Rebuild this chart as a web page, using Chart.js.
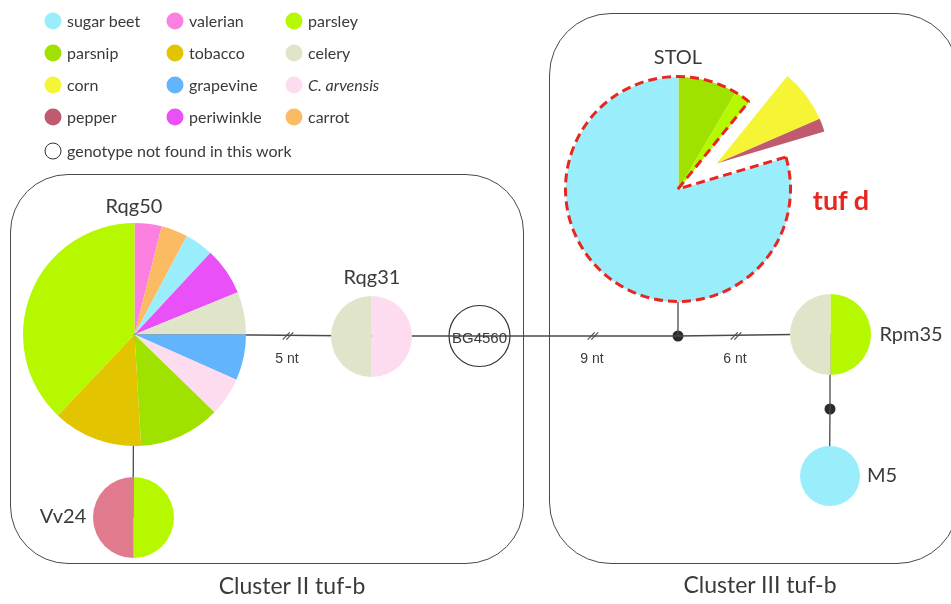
<!DOCTYPE html>
<html>
<head>
<meta charset="utf-8">
<script src="https://cdn.jsdelivr.net/npm/chart.js@4.4.1/dist/chart.umd.min.js"></script>
<style>
  body { margin: 0; background: #fff; font-family: Lato, "Open Sans", sans-serif; color: #3a3a3a; }
  #wrap { position: relative; width: 951px; height: 604px; overflow: hidden; }
  #net { position: absolute; left: 0; top: 0; }
  canvas.pie { position: absolute; }
  .box { position: absolute; border: 1.5px solid #4a4a4a; box-sizing: border-box; }
  .lbl { position: absolute; white-space: nowrap; transform: translate(-50%, -50%); line-height: 1; }
  .node { font-size: 20px; }
  .nt { font-family: "Liberation Sans", Arial, sans-serif; font-size: 14px; }
  .cluster { font-size: 23px; }
  .leg { position: absolute; font-size: 16px; white-space: nowrap; line-height: 1; transform: translateY(-50%); }
  .dot { position: absolute; width: 17px; height: 17px; border-radius: 50%; transform: translate(-50%, -50%); box-sizing: border-box; }
</style>
</head>
<body>
<div id="wrap">
  <div class="box" style="left:10px; top:174px; width:514px; height:390px; border-radius:58px;"></div>
  <div class="box" style="left:549px; top:13px; width:410px; height:551px; border-radius:62px;"></div>
  <canvas id="net" width="951" height="604"></canvas>
</div>
<script>
// host plants and their colours
const hosts = ['sugar beet', 'valerian', 'parsley', 'parsnip', 'tobacco', 'celery',
               'corn', 'grapevine', 'C. arvensis', 'pepper', 'periwinkle', 'carrot'];
const hostColors = ['#9aeefc', '#fb80e0', '#b6f800', '#9fe200', '#e3c400', '#e0e4c8',
                    '#f5f536', '#62b4fc', '#fcdcee', '#c05a6e', '#ea50f7', '#fbbb63'];

// slices of each genotype, clockwise from 12 o'clock (shares)
const rqg50Hosts = ['valerian', 'carrot', 'sugar beet', 'periwinkle', 'celery', 'grapevine',
                    'C. arvensis', 'parsnip', 'tobacco', 'parsley'];
const rqg50Values = [14.1, 13.9, 14.9, 24.9, 22.2, 23.9, 20.3, 42.4, 46.9, 136.5];
const rqg31Hosts = ['C. arvensis', 'celery'];
const rqg31Values = [1, 1];
const stolHosts = ['parsnip', 'parsley', 'corn', 'pepper', 'sugar beet'];
const stolValues = [30.5, 8.5, 27.5, 7, 286.5];
const tufdHosts = ['corn', 'pepper'];   // wedge pulled out of STOL
const rpm35Hosts = ['parsley', 'celery'];
const rpm35Values = [1, 1];
const m5Hosts = ['sugar beet'];
const m5Values = [1];
const vv24Hosts = ['parsley', 'pepper'];
const vv24Values = [1, 1];
const edgeLabels = ['5 nt', '9 nt', '6 nt'];

// layout (pixels)
const nodes = {
  Rqg50: { x: 134, y: 334, r: 111.5 },
  Rqg31: { x: 371, y: 336, r: 40.5 },
  BG4560: { x: 479.5, y: 336, r: 30.5 },
  J1: { x: 678, y: 336 },
  STOL: { x: 678, y: 189, r: 112.5 },
  Rpm35: { x: 830, y: 334, r: 40.7 },
  J2: { x: 830, y: 409 },
  M5: { x: 829.5, y: 475.5, r: 30 },
  Vv24: { x: 133, y: 517.5, r: 40.5 }
};
const edges = [['Rqg50', 'Rqg31'], ['Rqg31', 'BG4560'], ['BG4560', 'J1'], ['J1', 'Rpm35'],
               ['J1', 'STOL'], ['Rpm35', 'J2'], ['J2', 'M5'], ['Rqg50', 'Vv24']];
const breakMarks = [{ x: 288, y: 336 }, { x: 593, y: 336 }, { x: 736, y: 336 }];

const wrap = document.getElementById('wrap');
const colorOf = h => hostColors[hosts.indexOf(h)];

// ---- network lines, junctions, empty genotype ----
const datasets = [];
edges.forEach(e => {
  const a = nodes[e[0]], b = nodes[e[1]];
  datasets.push({ type: 'line', data: [{ x: a.x, y: a.y }, { x: b.x, y: b.y }],
    borderColor: '#4a4a4a', borderWidth: 1.3, pointRadius: 0 });
});
breakMarks.forEach(m => {
  [-1.8, 1.8].forEach(k => {
    datasets.push({ type: 'line', data: [{ x: m.x + k - 3.5, y: m.y + 3.6 }, { x: m.x + k + 3.5, y: m.y - 3.6 }],
      borderColor: '#4a4a4a', borderWidth: 1.1, pointRadius: 0 });
  });
});
datasets.push({ data: [nodes.J1, nodes.J2].map(n => ({ x: n.x, y: n.y })),
  pointRadius: 5.5, backgroundColor: '#2b2b2b', borderWidth: 0 });
datasets.push({ data: [{ x: nodes.BG4560.x, y: nodes.BG4560.y }],
  pointRadius: nodes.BG4560.r, backgroundColor: '#fff', borderColor: '#333', borderWidth: 1.2 });

new Chart(document.getElementById('net'), {
  type: 'scatter',
  data: { datasets },
  options: {
    responsive: false, animation: false,
    layout: { padding: 0, autoPadding: false },
    plugins: { legend: { display: false }, tooltip: { enabled: false } },
    scales: {
      x: { type: 'linear', min: 0, max: 951, display: false },
      y: { type: 'linear', min: 0, max: 604, reverse: true, display: false }
    }
  }
});

// ---- pies ----
function makePie(cx, cy, r, labels, values, colors, extra) {
  extra = extra || {};
  const bw = extra.borderWidth || 0;
  const size = Math.round(2 * r + bw);
  const c = document.createElement('canvas');
  c.className = 'pie';
  c.width = size; c.height = size;
  c.style.left = (cx - size / 2) + 'px';
  c.style.top = (cy - size / 2) + 'px';
  wrap.appendChild(c);
  new Chart(c, {
    type: 'pie',
    data: { labels, datasets: [{ data: values, backgroundColor: colors,
      borderWidth: extra.borderWidths || 0, borderColor: extra.borderColor || '#fff',
      borderDash: extra.borderDash || [] }] },
    options: {
      responsive: false, animation: false, rotation: extra.rotation || 0,
      plugins: { legend: { display: false }, tooltip: { enabled: false } }
    }
  });
}

function pie(name, labels, values, override) {
  const n = nodes[name];
  makePie(n.x, n.y, n.r, labels, values, labels.map(h => (override && override[h]) || colorOf(h)));
}

pie('Rqg50', rqg50Hosts, rqg50Values);
pie('Rqg31', rqg31Hosts, rqg31Values);
pie('Rpm35', rpm35Hosts, rpm35Values);
pie('M5', m5Hosts, m5Values);
pie('Vv24', vv24Hosts, vv24Values, { pepper: '#e07b8e' });

// STOL: body, pulled-out tuf d wedge, dashed outline
const clear = 'rgba(0,0,0,0)';
const S = nodes.STOL;
const total = stolValues.reduce((a, b) => a + b, 0);
let wedgeStart = 0, wedgeSize = 0, seen = false;
stolHosts.forEach((h, i) => {
  if (tufdHosts.includes(h)) { wedgeSize += stolValues[i]; seen = true; }
  else if (!seen) wedgeStart += stolValues[i];
});
const a0 = wedgeStart / total * 360, da = wedgeSize / total * 360;
const mid = (a0 + da / 2) * Math.PI / 180, pull = 46;
makePie(S.x, S.y, S.r, stolHosts, stolValues,
  stolHosts.map(h => tufdHosts.includes(h) ? clear : colorOf(h)));
makePie(S.x + pull * Math.sin(mid), S.y - pull * Math.cos(mid), S.r, stolHosts, stolValues,
  stolHosts.map(h => tufdHosts.includes(h) ? colorOf(h) : clear));
makePie(S.x, S.y, S.r, ['STOL', 'tuf d'], [total - wedgeSize, wedgeSize], [clear, clear],
  { rotation: a0 + da, borderWidth: 3, borderWidths: [3, 0], borderColor: '#e8251f', borderDash: [9, 5] });

// ---- text ----
function label(text, x, y, cls, style) {
  const d = document.createElement('div');
  d.className = 'lbl ' + (cls || '');
  d.textContent = text;
  d.style.left = x + 'px'; d.style.top = y + 'px';
  if (style) Object.assign(d.style, style);
  wrap.appendChild(d);
}
label('Rqg50', 134, 205, 'node');
label('Rqg31', 372, 276, 'node');
label('STOL', 678, 56, 'node');
label('Rpm35', 911, 333, 'node');
label('M5', 882, 474, 'node');
label('Vv24', 63, 515, 'node');
label('BG4560', nodes.BG4560.x, nodes.BG4560.y + 0.5, 'nt', { fontSize: '15px' });
label(edgeLabels[0], 287, 358, 'nt');
label(edgeLabels[1], 592, 358, 'nt');
label(edgeLabels[2], 735, 358, 'nt');
label('tuf d', 841, 199, '', { fontSize: '27px', fontWeight: 'bold', color: '#e8251f' });
label('Cluster II tuf-b', 292, 585, 'cluster');
label('Cluster III tuf-b', 760, 584, 'cluster');

// ---- legend ----
const legX = [53, 175, 294], legY = [21, 53, 85, 117];
hosts.forEach((h, i) => {
  const x = legX[i % 3], y = legY[Math.floor(i / 3)];
  const d = document.createElement('div');
  d.className = 'dot';
  d.style.left = x + 'px'; d.style.top = y + 'px'; d.style.background = hostColors[i];
  wrap.appendChild(d);
  const t = document.createElement('div');
  t.className = 'leg';
  t.textContent = h;
  if (h === 'C. arvensis') t.style.fontStyle = 'italic';
  t.style.left = (x + 14) + 'px'; t.style.top = y + 'px';
  wrap.appendChild(t);
});
const od = document.createElement('div');
od.className = 'dot';
od.style.cssText = 'left:53px; top:151px; border:1.5px solid #333; background:#fff;';
wrap.appendChild(od);
const ot = document.createElement('div');
ot.className = 'leg';
ot.textContent = 'genotype not found in this work';
ot.style.left = '67px'; ot.style.top = '151px';
wrap.appendChild(ot);
</script>
</body>
</html>
